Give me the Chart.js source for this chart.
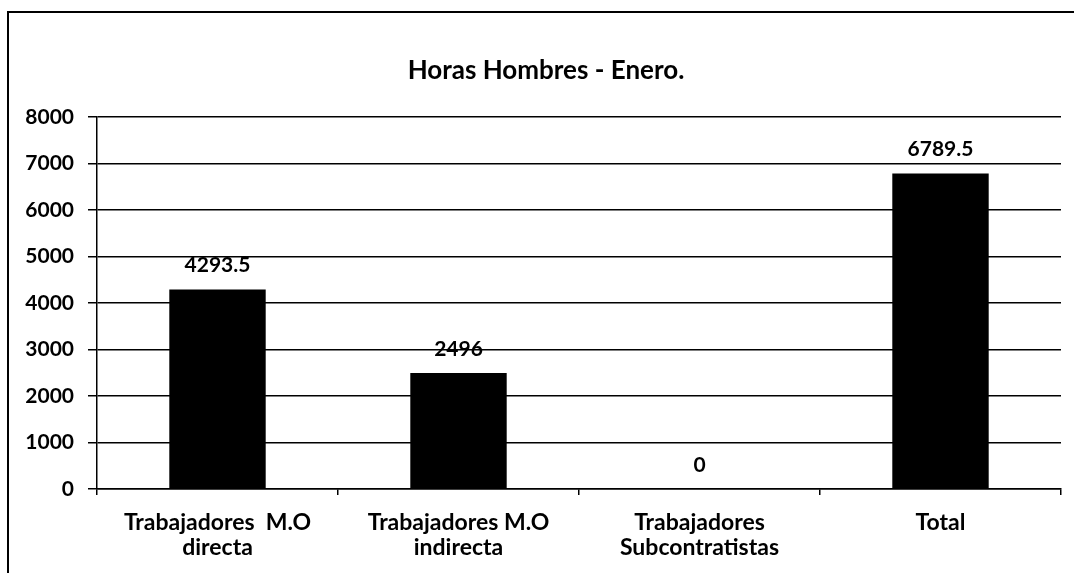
<!DOCTYPE html>
<html>
<head>
<meta charset="utf-8">
<script src="https://cdn.jsdelivr.net/npm/chart.js@4"></script>
<style>
  html, body { margin: 0; padding: 0; background: #fff; }
  #wrap { position: relative; width: 1074px; height: 573px; overflow: hidden; }
  #frame {
    position: absolute; left: 7px; top: 11px; width: 1100px; height: 600px;
    border-left: 2px solid #000; border-top: 2px solid #000; pointer-events: none;
  }
</style>
</head>
<body>
<div id="wrap">
  <canvas id="barChart" width="1074" height="573"></canvas>
  <div id="frame"></div>
</div>
<script>
const categorias = [
  ['Trabajadores  M.O', 'directa'],
  ['Trabajadores M.O', 'indirecta'],
  ['Trabajadores', 'Subcontratistas'],
  'Total'
];
const horas = [4293.5, 2496, 0, 6789.5];
const ticksY = [0, 1000, 2000, 3000, 4000, 5000, 6000, 7000, 8000];

const fuente = 'Lato';

// Escribe el valor encima de cada barra
const etiquetasValor = {
  id: 'etiquetasValor',
  afterDatasetsDraw(chart) {
    const ctx = chart.ctx;
    const meta = chart.getDatasetMeta(0);
    ctx.save();
    ctx.font = 'bold 21px "' + fuente + '"';
    ctx.fillStyle = '#000';
    ctx.textAlign = 'center';
    ctx.textBaseline = 'middle';
    meta.data.forEach((bar, i) => {
      ctx.fillText(String(horas[i]), bar.x, bar.y - 24);
    });
    ctx.restore();
  }
};

// El título va centrado un poco a la izquierda del área de barras
const tituloDesplazado = {
  id: 'tituloDesplazado',
  afterLayout(chart) {
    if (chart.titleBlock) chart.titleBlock.left = 31;
  }
};

const ctx = document.getElementById('barChart').getContext('2d');
new Chart(ctx, {
  type: 'bar',
  data: {
    labels: categorias,
    datasets: [{
      label: 'Horas',
      data: horas,
      backgroundColor: '#000',
      borderWidth: 0,
      barPercentage: 0.4,
      categoryPercentage: 1
    }]
  },
  options: {
    responsive: false,
    animation: false,
    layout: { padding: { top: 0, right: 13, bottom: 0, left: 0 } },
    plugins: {
      legend: { display: false },
      tooltip: { enabled: false },
      title: {
        display: true,
        text: 'Horas Hombres - Enero.',
        color: '#000',
        font: { family: fuente, size: 26, weight: 'bold' },
        padding: { top: 55, bottom: 31 }
      }
    },
    scales: {
      y: {
        min: 0,
        max: 8000,
        afterBuildTicks: s => { s.ticks = ticksY.map(v => ({ value: v })); },
        afterFit: s => { s.width = 97; },
        ticks: {
          color: '#000',
          padding: 14,
          callback: v => String(v),
          font: { family: fuente, size: 21, weight: 'bold' }
        },
        grid: { color: '#000', lineWidth: 1.5, tickLength: 9 },
        border: { color: '#000', width: 1.5 }
      },
      x: {
        afterFit: s => { s.height = 84; },
        ticks: {
          color: '#000',
          padding: 15,
          maxRotation: 0,
          font: { family: fuente, size: 23, weight: 'bold', lineHeight: 1.1 }
        },
        grid: { display: true, drawOnChartArea: false, color: '#000', lineWidth: 1.5, tickLength: 6, offset: true },
        border: { color: '#000', width: 1.5 }
      }
    }
  },
  plugins: [etiquetasValor, tituloDesplazado]
});
</script>
</body>
</html>
